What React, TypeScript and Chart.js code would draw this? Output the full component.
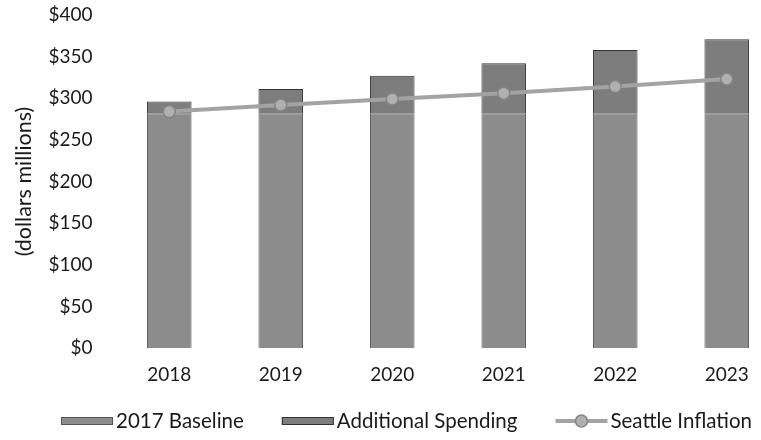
import React, { useEffect, useRef } from "react";
import { Chart, registerables } from "chart.js";

Chart.register(...registerables);

const years = ["2018", "2019", "2020", "2021", "2022", "2023"];
const baseline = [282, 282, 282, 282, 282, 282];
const additional = [14, 29, 45, 60, 76, 89];
const inflation = [284, 292, 299, 306, 314, 323];
const yTicks = [0, 50, 100, 150, 200, 250, 300, 350, 400];

const FONT = "Lato, 'Open Sans', sans-serif";
const CANVAS_W = 790;

const legendPlugin = {
  id: "customLegend",
  afterDraw(chart: any) {
    const ctx = chart.ctx;
    const ds = chart.data.datasets;
    const y = 421;
    ctx.save();
    ctx.font = `20.5px ${FONT}`;
    ctx.textBaseline = "middle";
    ctx.textAlign = "left";
    const gap = 38;
    const boxW = 52;
    const textGap = 3;
    const widths = ds.map((d: any) => boxW + textGap + ctx.measureText(d.label).width);
    const total = widths.reduce((a: number, b: number) => a + b, 0) + gap * (ds.length - 1);
    let x = 752 - total;
    ds.forEach((d: any, i: number) => {
      if (d.type === "line") {
        ctx.strokeStyle = d.borderColor;
        ctx.lineWidth = 4;
        ctx.beginPath();
        ctx.moveTo(x, y);
        ctx.lineTo(x + boxW, y);
        ctx.stroke();
        ctx.beginPath();
        ctx.arc(x + boxW / 2, y, 6, 0, Math.PI * 2);
        ctx.fillStyle = d.pointBackgroundColor;
        ctx.fill();
        ctx.strokeStyle = d.pointBorderColor;
        ctx.lineWidth = 1.5;
        ctx.stroke();
      } else {
        ctx.fillStyle = d.backgroundColor;
        ctx.fillRect(x, y - 4, boxW, 8);
        ctx.strokeStyle = d.borderColor;
        ctx.lineWidth = 1;
        ctx.strokeRect(x + 0.5, y - 3.5, boxW - 1, 7);
      }
      ctx.fillStyle = "#1a1a1a";
      ctx.fillText(d.label, x + boxW + textGap, y);
      x += widths[i] + gap;
    });
    ctx.restore();
  },
};

export default function App() {
  const ref = useRef<HTMLCanvasElement>(null);
  useEffect(() => {
    document.body.style.margin = "0";
    const chart = new Chart(ref.current!, {
      type: "bar",
      data: {
        labels: years,
        datasets: [
          {
            label: "2017 Baseline",
            data: baseline,
            backgroundColor: "#8c8c8c",
            borderColor: "#555555",
            borderWidth: 1,
            categoryPercentage: 1,
            barPercentage: 0.4,
            order: 1,
          },
          {
            label: "Additional Spending",
            data: additional,
            backgroundColor: "#7d7d7d",
            borderColor: "#333333",
            borderWidth: 1,
            categoryPercentage: 1,
            barPercentage: 0.4,
            order: 1,
          },
          {
            type: "line",
            label: "Seattle Inflation",
            data: inflation,
            borderColor: "#a3a3a3",
            borderWidth: 4,
            pointRadius: 6,
            pointBackgroundColor: "#b0b0b0",
            pointBorderColor: "#858585",
            pointBorderWidth: 1.5,
            order: 0,
          } as any,
        ],
      },
      options: {
        animation: false,
        responsive: false,
        layout: { padding: { top: 15, bottom: 52, right: 1.5, left: 11 } },
        plugins: { legend: { display: false }, tooltip: { enabled: false } },
        scales: {
          x: {
            stacked: true,
            grid: { display: false, drawTicks: false },
            border: { display: false },
            ticks: { color: "#1a1a1a", font: { family: FONT, size: 19 }, padding: 15.5 },
            afterFit(scale: any) {
              scale.height = 40;
              scale.paddingLeft = 0;
              scale.paddingRight = 0;
            },
          },
          y: {
            stacked: true,
            min: 0,
            max: 400,
            afterBuildTicks(scale: any) {
              scale.ticks = yTicks.map((v) => ({ value: v }));
            },
            afterFit(scale: any) {
              scale.width = 102.5;
              scale.paddingTop = 0;
              scale.paddingBottom = 0;
            },
            grid: { display: false, drawTicks: false },
            border: { display: false },
            ticks: {
              color: "#1a1a1a",
              font: { family: FONT, size: 19 },
              padding: 21,
              callback: (v: any) => "$" + v,
            },
            title: {
              display: true,
              text: "(dollars millions)",
              color: "#1a1a1a",
              font: { family: FONT, size: 21.5 },
              padding: 0,
            },
          },
        },
      },
      plugins: [legendPlugin],
    });
    return () => chart.destroy();
  }, []);
  return (
    <div style={{ width: 761, height: 440, overflow: "hidden", background: "#fff" }}>
      <canvas ref={ref} width={CANVAS_W} height={440} style={{ display: "block" }} />
    </div>
  );
}
